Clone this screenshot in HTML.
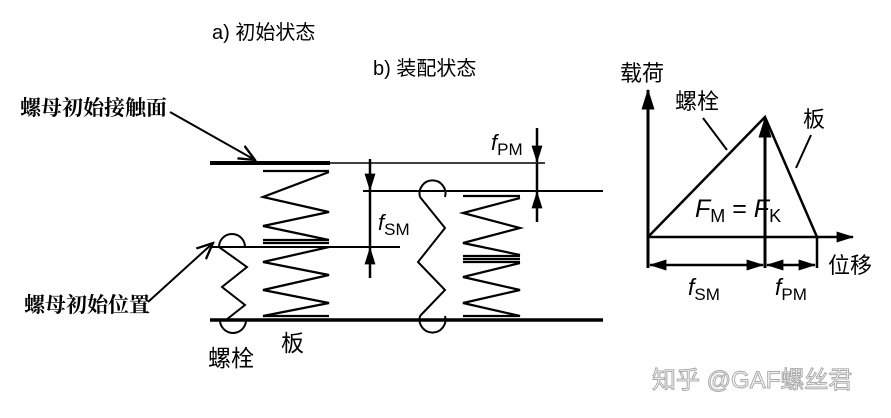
<!DOCTYPE html>
<html><head><meta charset="utf-8"><style>
html,body{margin:0;padding:0;background:#fff;}
svg{display:block}
.s{font-family:"Liberation Sans","Noto Sans CJK SC",sans-serif;}
.r{font-family:"Liberation Serif","Noto Serif CJK SC",serif;font-weight:bold;}
</style></head><body>
<svg width="891" height="418" viewBox="0 0 891 418" xmlns="http://www.w3.org/2000/svg">
<defs>
<marker id="a" viewBox="0 0 16 10" refX="15" refY="5" markerWidth="7" markerHeight="4.4" orient="auto-start-reverse"><path d="M0,0 L16,5 L0,10 z" fill="#000"/></marker>
<marker id="o" viewBox="0 0 10 10" refX="9" refY="5" markerWidth="9" markerHeight="9" orient="auto"><path d="M0,1 L9,5 L0,9" fill="none" stroke="#000" stroke-width="1.3"/></marker>
</defs>
<g fill="none" stroke="#000">
<line x1="210" y1="163" x2="330" y2="163" stroke-width="4"/>
<line x1="330" y1="163" x2="545" y2="163" stroke-width="1.5"/>
<line x1="210" y1="320" x2="603" y2="320" stroke-width="3.5"/>
<line x1="212" y1="247" x2="400" y2="247" stroke-width="2"/>
<line x1="363" y1="191" x2="603" y2="191" stroke-width="2"/>
<path d="M263,171 H329 M329,172 L263,197 L329,212 L263,226 L329,240 M263,240 H329 M263,243 H329 M329,247 L263,262 L329,275 L263,290 L329,303 L263,316 H329" stroke-width="2.2"/>
<path d="M219,247 A13,13 0 1 1 245,247" stroke-width="2"/>
<path d="M219,247 L247,267 L222,287 L245,305 L226,320" stroke-width="2"/>
<path d="M220,320 A13,13 0 1 0 246,320" stroke-width="2"/>
<path d="M420,197 A13,13 0 1 1 445,197" stroke-width="2"/>
<path d="M420,197 L445,228 L418,262 L445,290 L420,316" stroke-width="2"/>
<path d="M420,316 A13,13 0 1 0 445,316" stroke-width="2"/>
<path d="M463,196 H520 M520,198 L463,213 L520,228 L463,243 L520,255 M463,256 H520 M463,259 H520 M463,262 H520 M520,263 L463,277 L520,290 L463,303 L520,316 H463" stroke-width="2.2"/>
<line x1="370" y1="159" x2="370" y2="190" stroke-width="2.5" marker-end="url(#a)"/>
<line x1="370" y1="191" x2="370" y2="247" stroke-width="2.5"/>
<line x1="370" y1="278" x2="370" y2="248" stroke-width="2.5" marker-end="url(#a)"/>
<line x1="537" y1="128" x2="537" y2="162" stroke-width="2.5" marker-end="url(#a)"/>
<line x1="537" y1="163" x2="537" y2="191" stroke-width="2.5"/>
<line x1="537" y1="222" x2="537" y2="192" stroke-width="2.5" marker-end="url(#a)"/>
<line x1="170" y1="112" x2="255" y2="160" stroke-width="2" marker-end="url(#o)"/>
<line x1="148" y1="302" x2="213" y2="243" stroke-width="2" marker-end="url(#o)"/>
<line x1="648" y1="268" x2="648" y2="90" stroke-width="3" marker-end="url(#a)"/>
<line x1="648" y1="237" x2="853" y2="237" stroke-width="2.5" marker-end="url(#a)"/>
<path d="M648,237 L765,117 L817,237" stroke-width="2.5"/>
<line x1="765" y1="268" x2="765" y2="118" stroke-width="3" marker-end="url(#a)"/>
<line x1="817" y1="237" x2="817" y2="268" stroke-width="2.5"/>
<line x1="650" y1="265" x2="763" y2="265" stroke-width="2.5" marker-start="url(#a)" marker-end="url(#a)"/>
<line x1="767" y1="265" x2="815" y2="265" stroke-width="2.5" marker-start="url(#a)" marker-end="url(#a)"/>
<line x1="703" y1="118" x2="727" y2="150" stroke-width="2"/>
<line x1="811" y1="135" x2="796" y2="168" stroke-width="2"/>
</g>
<g fill="#000">
<text x="212" y="39" class="s" font-size="20">a) 初始状态</text>
<text x="373" y="75" class="s" font-size="20">b) 装配状态</text>
<text x="20" y="115" class="r" font-size="21">螺母初始接触面</text>
<text x="24" y="312" class="r" font-size="21">螺母初始位置</text>
<text x="208" y="366" class="s" font-size="23">螺栓</text>
<text x="281" y="351" class="s" font-size="23">板</text>
<text x="378" y="230" class="s" font-size="22"><tspan font-style="italic">f</tspan><tspan font-size="17" dy="5">SM</tspan></text>
<text x="491" y="150" class="s" font-size="22"><tspan font-style="italic">f</tspan><tspan font-size="17" dy="5">PM</tspan></text>
<text x="620" y="81" class="s" font-size="22">载荷</text>
<text x="675" y="109" class="s" font-size="22">螺栓</text>
<text x="803" y="127" class="s" font-size="22">板</text>
<text x="828" y="273" class="s" font-size="22">位移</text>
<text x="695" y="217" class="s" font-size="25"><tspan font-style="italic">F</tspan><tspan font-size="18" dy="5">M</tspan><tspan dy="-5"> = </tspan><tspan font-style="italic">F</tspan><tspan font-size="18" dy="5">K</tspan></text>
<text x="688" y="295" class="s" font-size="23"><tspan font-style="italic">f</tspan><tspan font-size="17" dy="5">SM</tspan></text>
<text x="775" y="295" class="s" font-size="23"><tspan font-style="italic">f</tspan><tspan font-size="17" dy="5">PM</tspan></text>
<text x="652" y="388" class="s" font-size="24" fill="#fff" stroke="#aaa" stroke-width="1">知乎 @GAF螺丝君</text>
</g>
</svg>
</body></html>
